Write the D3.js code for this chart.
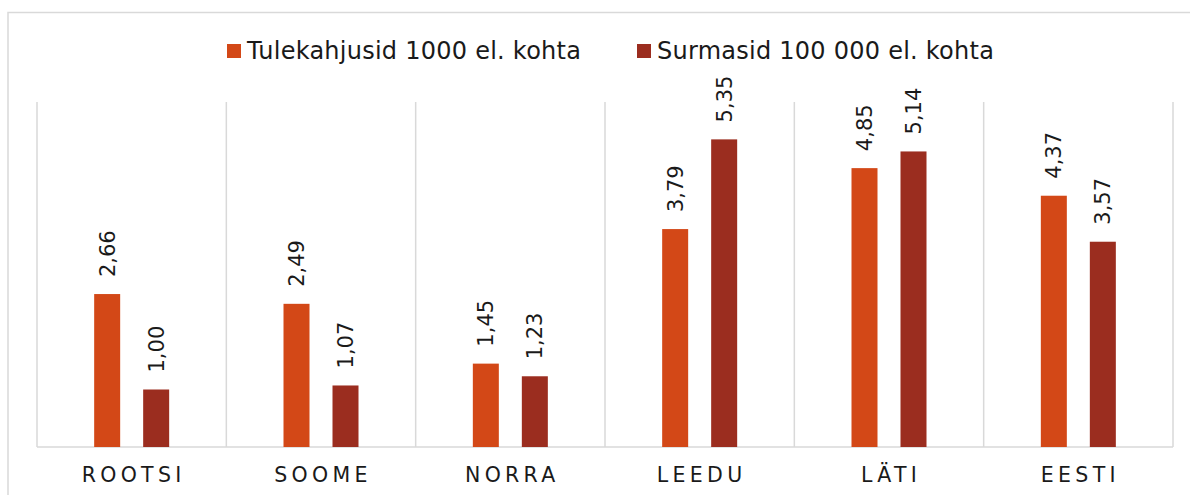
<!DOCTYPE html>
<html>
<head>
<meta charset="utf-8">
<script src="https://cdn.jsdelivr.net/npm/d3@7"></script>
<style>
  body { margin: 0; background: #fff; }
  svg { font-family: Verdana, "DejaVu Sans", sans-serif; }
</style>
</head>
<body>
<div class="chart"></div>
<script>
// riigid ja väärtused
var countries = ["ROOTSI", "SOOME", "NORRA", "LEEDU", "LÄTI", "EESTI"];
var seriesNames = ["Tulekahjusid 1000 el. kohta", "Surmasid 100 000 el. kohta"];
var fires = [2.66, 2.49, 1.45, 3.79, 4.85, 4.37];
var deaths = [1.00, 1.07, 1.23, 5.35, 5.14, 3.57];
var colors = ["#d34817", "#9b2d1f"];

var w = 1190, h = 495;
var margin = {left: 37, right: 17, top: 102, bottom: 48};

var svg = d3.select(".chart").append("svg")
  .attr("width", w)
  .attr("height", h);

// raam
svg.append("rect")
  .attr("x", 8).attr("y", 12.5)
  .attr("width", 1200).attr("height", 500)
  .attr("fill", "none")
  .attr("stroke", "#d9d9d9")
  .attr("stroke-width", 1.5);

var x = d3.scaleBand()
  .domain(countries)
  .range([margin.left, w - margin.right]);

var y = d3.scaleLinear()
  .domain([0, 6])
  .range([h - margin.bottom, margin.top]);

// vertikaalsed jooned kategooriate vahel
var edges = countries.map(function(c) { return x(c); }).concat([x.range()[1]]);
svg.selectAll("line.grid")
  .data(edges)
  .enter()
  .append("line")
  .attr("class", "grid")
  .attr("x1", function(d) { return d; })
  .attr("x2", function(d) { return d; })
  .attr("y1", y(6))
  .attr("y2", y(0))
  .attr("stroke", "#d9d9d9")
  .attr("stroke-width", 1.5);

// x-telg
svg.append("line")
  .attr("x1", x.range()[0]).attr("x2", x.range()[1])
  .attr("y1", y(0)).attr("y2", y(0))
  .attr("stroke", "#d9d9d9")
  .attr("stroke-width", 1.5);

svg.selectAll("text.cat")
  .data(countries)
  .enter()
  .append("text")
  .attr("class", "cat")
  .attr("x", function(d) { return x(d) + x.bandwidth() / 2 + 2; })
  .attr("y", 482)
  .attr("text-anchor", "middle")
  .attr("font-size", 20.5)
  .attr("letter-spacing", 4.3)
  .attr("fill", "#1a1a1a")
  .text(function(d) { return d; });

// tulbad
var barW = 26, offset = 24.5;
var series = [fires, deaths];
series.forEach(function(vals, s) {
  var g = svg.append("g");
  g.selectAll("rect")
    .data(vals)
    .enter()
    .append("rect")
    .attr("x", function(d, i) { return x(countries[i]) + x.bandwidth() / 2 + (s == 0 ? -offset : offset) - barW / 2; })
    .attr("y", function(d) { return y(d); })
    .attr("width", barW)
    .attr("height", function(d) { return y(0) - y(d); })
    .attr("fill", colors[s]);

  g.selectAll("text")
    .data(vals)
    .enter()
    .append("text")
    .attr("transform", function(d, i) {
      var cx = x(countries[i]) + x.bandwidth() / 2 + (s == 0 ? -offset : offset);
      return "translate(" + cx + "," + (y(d) - 17) + ") rotate(-90)";
    })
    .attr("dy", "0.36em")
    .attr("font-size", 21)
    .attr("fill", "#1a1a1a")
    .text(function(d) { return d.toFixed(2).replace(".", ","); });
});

// legend
var legendX = [227, 637];
seriesNames.forEach(function(name, s) {
  svg.append("rect")
    .attr("x", legendX[s]).attr("y", 44)
    .attr("width", 14).attr("height", 14)
    .attr("fill", colors[s]);
  svg.append("text")
    .attr("x", legendX[s] + 20)
    .attr("y", 59)
    .attr("font-size", 24)
    .attr("letter-spacing", 0.25)
    .attr("fill", "#1a1a1a")
    .text(name);
});
</script>
</body>
</html>
